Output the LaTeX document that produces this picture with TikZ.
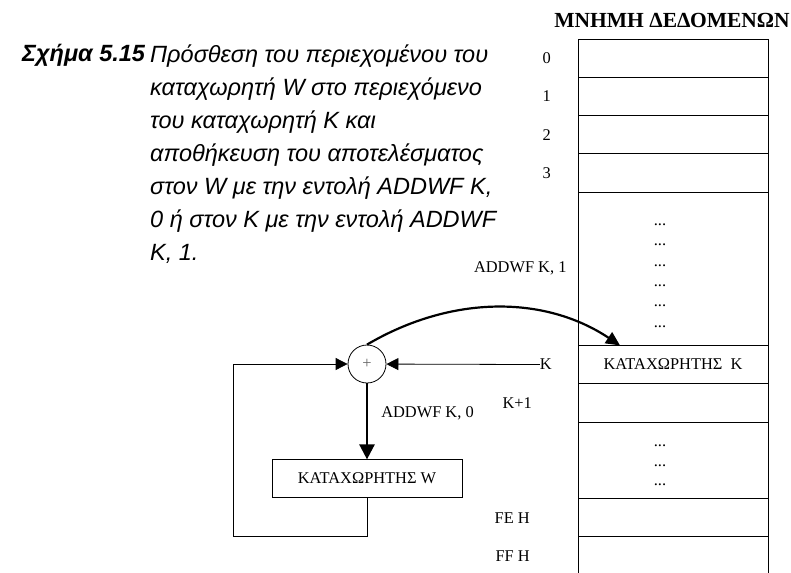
\documentclass[tikz,border=0pt]{standalone}
\usepackage{fontspec}
\setmainfont{Liberation Serif}
\newfontfamily\capfont{Liberation Sans}
\usetikzlibrary{positioning,arrows.meta,calc}

\begin{document}
\begin{tikzpicture}[
  x=1pt, y=-1pt,
  every node/.style={font=\fontsize{16.4}{19}\selectfont},
  cell/.style={draw, line width=0.9pt, minimum width=190pt, minimum height=38.3pt, inner sep=0pt, outer sep=0pt},
  lbl/.style={inner sep=0pt},
  dots/.style={inner sep=0pt, anchor=base},
  adder/.style={draw, circle, line width=0.8pt, minimum size=38pt, inner sep=0pt},
  thinarrow/.style={-{Triangle[length=12pt,width=12pt]}, line width=0.8pt},
  thickarrow/.style={-{Triangle[length=15pt,width=15pt]}, line width=2.5pt},
  curvearrow/.style={-{Triangle[length=14pt,width=13pt]}, line width=2.2pt},
  capfont/.style={font=\capfont\itshape\fontsize{23.5}{33}\selectfont, inner sep=0pt}
]
\useasboundingbox (0,0) rectangle (791,572);

% caption
\node[capfont, font=\capfont\bfseries\itshape\fontsize{23.5}{33}\selectfont, anchor=base west] (capHead) at (22,62) {Σχήμα 5.15};
\node[capfont, align=left, anchor=base west] (capBody) at (150,260) {Πρόσθεση του περιεχομένου του\\καταχωρητή W στο περιεχόμενο\\του καταχωρητή K και\\αποθήκευση του αποτελέσματος\\στον W με την εντολή ADDWF K,\\0 ή στον K με την εντολή ADDWF\\K, 1.};

% data memory column
\node[cell] (c0) at (673,58.15) {};
\node[cell, below=0pt of c0] (c1) {};
\node[cell, below=0pt of c1] (c2) {};
\node[cell, below=0pt of c2] (c3) {};
\node[cell, below=0pt of c3, minimum height=153.2pt] (cdots) {};
\node[cell, below=0pt of cdots] (cK) {ΚΑΤΑΧΩΡΗΤΗΣ\ \ K};
\node[cell, below=0pt of cK] (cK1) {};
\node[cell, below=0pt of cK1, minimum height=76.6pt] (cdots2) {};
\node[cell, below=0pt of cdots2] (cFE) {};
\node[cell, below=0pt of cFE] (cFF) {};
\node[font=\bfseries\fontsize{21.5}{24}\selectfont, inner sep=0pt, above=11pt of c0, anchor=base, xshift=-1pt] (title) {ΜΝΗΜΗ ΔΕΔΟΜΕΝΩΝ};

\foreach \k in {0,...,5}
  \node[dots] (dtA\k) at ($(cdots.north)+(-13,33+20.4*\k)$) {...};
\foreach \k in {0,1,2}
  \node[dots] (dtB\k) at ($(cdots2.north)+(-13,24.5+19.5*\k)$) {...};

% addresses
\node[lbl, left=27pt of c0.west] (n0) {0};
\node[lbl, left=27pt of c1.west] (n1) {1};
\node[lbl, left=27pt of c2.west] (n2) {2};
\node[lbl, left=27pt of c3.west] (n3) {3};
\node[lbl, left=26pt of cK.west] (nK) {K};
\node[lbl, left=46pt of cK1.west] (nK1) {K+1};
\node[lbl, left=48pt of cFE.west] (nFE) {FE H};
\node[lbl, left=48pt of cFF.west] (nFF) {FF H};

% adder and W register
\node[adder, text=black!60] (sum) at (367,364) {+};
\node[cell, below=76pt of sum] (regW) {ΚΑΤΑΧΩΡΗΤΗΣ W};
\coordinate (loop) at (233,536);
\coordinate (kin) at ([xshift=-53pt]cK.north);

\draw[thinarrow] (nK) -- (sum);
\draw[thinarrow] (regW.south) |- (loop) |- (sum.west);
\draw[thickarrow] (sum) -- node[lbl, right=13pt, pos=0.4] (l0) {ADDWF K, 0} (regW);
\draw[curvearrow] (sum.north) .. controls +(85,-50) and +(-75,-50) .. (kin)
  node[lbl, pos=0.5, above=31pt, xshift=23pt] (l1) {ADDWF K, 1};
\end{tikzpicture}
\end{document}
